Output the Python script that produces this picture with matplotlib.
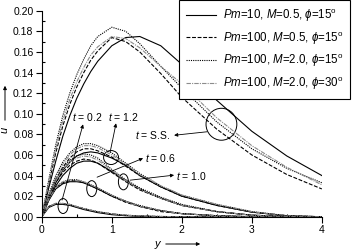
import matplotlib
matplotlib.use("Agg")
import matplotlib.pyplot as plt
from matplotlib.patches import Ellipse
from matplotlib.ticker import MultipleLocator, FormatStrFormatter

plt.rcParams['font.family'] = ['Liberation Sans', 'DejaVu Sans']
plt.rcParams['mathtext.fontset'] = 'custom'
plt.rcParams['mathtext.rm'] = 'Liberation Sans'
plt.rcParams['mathtext.it'] = 'Liberation Sans:italic'
plt.rcParams['font.size'] = 7.5

y_grid = [0, 0.1, 0.2, 0.3, 0.4, 0.5, 0.6, 0.7, 0.8, 1.0, 1.2, 1.4, 1.7, 2.0, 2.5, 3.0, 3.5, 4.0]

# order of series in each list: Pm=10 M=0.5 phi=15 / Pm=100 M=0.5 phi=15 /
# Pm=100 M=2.0 phi=15 / Pm=100 M=2.0 phi=30
u_ss = [
    [0, .028, .054, .078, .098, .115, .129, .141, .151, .166, .174, .175, .166, .148, .113, .083, .059, .040],
    [0, .032, .062, .088, .109, .126, .140, .152, .161, .174, .170, .160, .139, .116, .085, .060, .041, .027],
    [0, .036, .070, .098, .120, .138, .153, .166, .175, .184, .180, .168, .146, .125, .092, .066, .047, .033],
    [0, .034, .066, .093, .114, .131, .145, .157, .165, .175, .173, .164, .146, .129, .096, .069, .048, .031],
]
u_t12 = [
    [0, .018, .033, .045, .053, .059, .062, .063, .062, .057, .050, .040, .029, .020, .011, .0045, .001, 0],
    [0, .020, .036, .048, .057, .063, .066, .066, .064, .058, .049, .040, .029, .020, .011, .0045, .001, 0],
    [0, .022, .040, .053, .062, .068, .071, .071, .069, .062, .052, .042, .030, .021, .012, .005, .001, 0],
    [0, .021, .038, .051, .060, .066, .069, .069, .067, .060, .051, .041, .030, .021, .012, .005, .001, 0],
]
u_t10 = [
    [0, .016, .030, .040, .047, .052, .054, .054, .052, .044, .035, .027, .018, .011, .005, .0015, .0003, 0],
    [0, .018, .033, .043, .050, .054, .056, .055, .052, .043, .034, .026, .018, .011, .005, .0015, .0003, 0],
    [0, .020, .036, .047, .055, .059, .061, .060, .057, .046, .036, .028, .019, .012, .005, .0015, .0003, 0],
    [0, .019, .035, .046, .053, .057, .059, .058, .055, .045, .035, .027, .018, .011, .005, .0015, .0003, 0],
]
u_t06 = [
    [0, .016, .027, .032, .034, .034, .033, .030, .027, .020, .015, .010, .006, .003, .001, 0, 0, 0],
    [0, .017, .028, .033, .035, .035, .033, .030, .027, .020, .014, .010, .005, .003, .001, 0, 0, 0],
    [0, .018, .029, .034, .036, .036, .034, .031, .028, .021, .015, .011, .006, .003, .001, 0, 0, 0],
    [0, .017, .028, .034, .036, .035, .034, .031, .028, .021, .015, .010, .006, .003, .001, 0, 0, 0],
]
u_t02 = [
    [0, .009, .012, .012, .011, .009, .007, .0055, .004, .002, .001, .0004, .0001, 0, 0, 0, 0, 0],
    [0, .010, .0125, .0125, .0115, .0095, .0078, .0062, .0048, .0027, .0014, .0007, .0002, 0, 0, 0, 0, 0],
    [0, .010, .013, .013, .012, .010, .008, .0065, .005, .0028, .0015, .0008, .0003, 0, 0, 0, 0, 0],
    [0, .0098, .0128, .0128, .0118, .0098, .0079, .0064, .0049, .0028, .0015, .0008, .0003, 0, 0, 0, 0, 0],
]

case_labels = [
    r'$Pm$=10, $M$=0.5, $\phi$=15$^{\rm o}$',
    r'$Pm$=100, $M$=0.5, $\phi$=15$^{\rm o}$',
    r'$Pm$=100, $M$=2.0, $\phi$=15$^{\rm o}$',
    r'$Pm$=100, $M$=2.0, $\phi$=30$^{\rm o}$',
]
line_styles = ['-', (0, (3.5, 1.5)), (0, (1, 1)), (0, (4, 1, 1, 1))]
line_colors = ['black', 'black', 'black', '0.55']

fig = plt.figure(figsize=(3.6, 2.5), dpi=100)
ax = fig.add_axes([0.116, 0.133, 0.778, 0.824])

handles = []
for group in [u_ss, u_t12, u_t10, u_t06, u_t02]:
    for k in range(4):
        ln, = ax.plot(y_grid, group[k], ls=line_styles[k], color=line_colors[k], lw=0.8)
        if group is u_ss:
            handles.append(ln)

ax.set_xlim(0, 4)
ax.set_ylim(0, 0.2)
ax.spines['top'].set_visible(False)
ax.spines['right'].set_visible(False)
ax.xaxis.set_major_locator(MultipleLocator(1))
ax.xaxis.set_minor_locator(MultipleLocator(0.5))
ax.yaxis.set_major_locator(MultipleLocator(0.02))
ax.yaxis.set_minor_locator(MultipleLocator(0.01))
ax.yaxis.set_major_formatter(FormatStrFormatter('%.2f'))
ax.tick_params(which='major', direction='out', length=4, width=0.8, labelsize=7.5, pad=2)
ax.tick_params(which='minor', direction='in', length=2.5, width=0.8)

# circles + arrows marking each time level
marks = [
    # label, text xy, arrow start, arrow end, ellipse centre, w, h
    (r'$t$ = 0.2', (0.65, 0.0965), (0.29, 0.0162), (0.59, 0.0897), (0.304, 0.0104), 0.143, 0.0145),
    (r'$t$ = 1.2', (1.16, 0.0965), (0.976, 0.0626), (1.061, 0.0907), (0.990, 0.0575), 0.214, 0.0136),
    (r'$t$ = S.S.', (1.58, 0.0791), (2.36, 0.0825), (1.89, 0.0791), (2.566, 0.0898), 0.44, 0.031),
    (r'$t$ = 0.6', (1.70, 0.0568), (0.79, 0.0384), (1.447, 0.0568), (0.714, 0.0273), 0.143, 0.0155),
    (r'$t$ = 1.0', (2.13, 0.0394), (1.261, 0.0355), (1.89, 0.0404), (1.166, 0.0339), 0.143, 0.0155),
]
for lab, txy, a0, a1, c, w, h in marks:
    ax.text(txy[0], txy[1], lab, ha='center', va='center', fontsize=7.5)
    ax.annotate('', xy=a1, xytext=a0,
                arrowprops=dict(arrowstyle='-|>', lw=0.6, color='black', mutation_scale=5,
                                shrinkA=0, shrinkB=0))
    ax.add_patch(Ellipse(c, w, h, fill=False, lw=0.7, ec='black'))

# axis labels with arrows, figure coords
fig.text(157 / 360, 1 - 244 / 250, 'y', style='italic', fontsize=8, ha='center', va='center')
fig.add_artist(matplotlib.patches.FancyArrowPatch((163 / 360, 1 - 244 / 250), (203 / 360, 1 - 244 / 250),
               transform=fig.transFigure, arrowstyle='-|>', mutation_scale=5, lw=0.7, color='black'))
fig.text(5 / 360, 1 - 130 / 250, 'u', style='italic', fontsize=8, ha='center', va='center', rotation=90)
fig.add_artist(matplotlib.patches.FancyArrowPatch((5 / 360, 1 - 123 / 250), (5 / 360, 1 - 83 / 250),
               transform=fig.transFigure, arrowstyle='-|>', mutation_scale=5, lw=0.7, color='black'))

leg = fig.legend(handles, case_labels, loc='upper left', bbox_to_anchor=(179 / 360, 1.0),
                 frameon=True, fancybox=False, edgecolor='black', framealpha=1,
                 fontsize=8.3, handlelength=2.6, handletextpad=0.6, labelspacing=0.52,
                 borderpad=0.6, borderaxespad=0)
leg.get_frame().set_linewidth(0.8)

fig.savefig('out.png', dpi=100)
